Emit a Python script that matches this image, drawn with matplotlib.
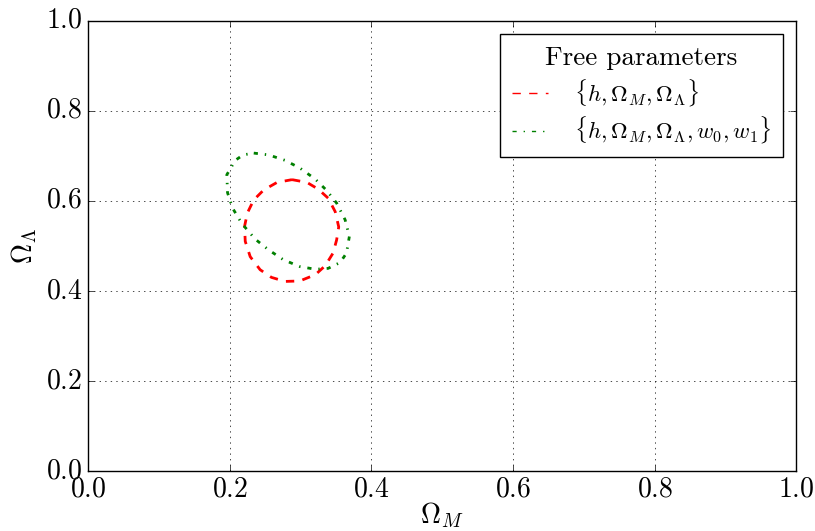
import matplotlib
matplotlib.use('Agg')
import matplotlib.pyplot as plt

plt.style.use('classic')
plt.rcParams['font.family'] = 'serif'
plt.rcParams['font.serif'] = ['cmr10']
plt.rcParams['mathtext.fontset'] = 'cm'
plt.rcParams['axes.formatter.use_mathtext'] = True

# contour: {h, Om, OL}
red_x = [0.288, 0.309, 0.325, 0.339, 0.349, 0.354, 0.351, 0.346, 0.335, 0.321, 0.299,
         0.278, 0.259, 0.243, 0.229, 0.222, 0.221, 0.225, 0.234, 0.248, 0.267, 0.288]
red_y = [0.647, 0.641, 0.626, 0.606, 0.576, 0.542, 0.513, 0.484, 0.456, 0.436, 0.422,
         0.421, 0.430, 0.447, 0.476, 0.510, 0.543, 0.573, 0.602, 0.624, 0.641, 0.647]

# contour: {h, Om, OL, w0, w1}
green_x = [0.234, 0.255, 0.278, 0.299, 0.321, 0.337, 0.351, 0.363, 0.369, 0.365, 0.356,
           0.339, 0.321, 0.299, 0.276, 0.255, 0.236, 0.217, 0.204, 0.197, 0.196, 0.208,
           0.219, 0.234]
green_y = [0.706, 0.702, 0.690, 0.673, 0.648, 0.623, 0.595, 0.558, 0.521, 0.484, 0.463,
           0.450, 0.448, 0.454, 0.469, 0.491, 0.515, 0.550, 0.584, 0.618, 0.658, 0.690,
           0.702, 0.706]

labels = [r'$\{h,\Omega_M,\Omega_\Lambda\}$', r'$\{h,\Omega_M,\Omega_\Lambda,w_0,w_1\}$']

fig = plt.figure(figsize=(8.15, 5.31), dpi=100, facecolor='white')
ax = fig.add_axes([0.108, 0.113, 0.869, 0.848])

ax.plot(red_x, red_y, 'r--', lw=2, label=labels[0])
ax.plot(green_x, green_y, color='green', ls='-.', lw=2, label=labels[1])

ax.set_xlim(0, 1)
ax.set_ylim(0, 1)
ax.set_xticks([0, 0.2, 0.4, 0.6, 0.8, 1.0])
ax.set_yticks([0, 0.2, 0.4, 0.6, 0.8, 1.0])
ax.tick_params(labelsize=20)
ax.grid(True, color='black', ls=':')
ax.set_xlabel(r'$\Omega_M$', fontsize=20, labelpad=-2)
ax.set_ylabel(r'$\Omega_\Lambda$', fontsize=20)

leg = ax.legend(loc='upper right', title='Free parameters', fontsize=16.5,
                handlelength=1.6, handletextpad=1.1, numpoints=1,
                borderaxespad=0.6, labelspacing=0.3, borderpad=0.5)
leg.get_title().set_fontsize(19.5)
for line in leg.get_lines():
    line.set_linewidth(1)

fig.savefig('out.png', dpi=100)
